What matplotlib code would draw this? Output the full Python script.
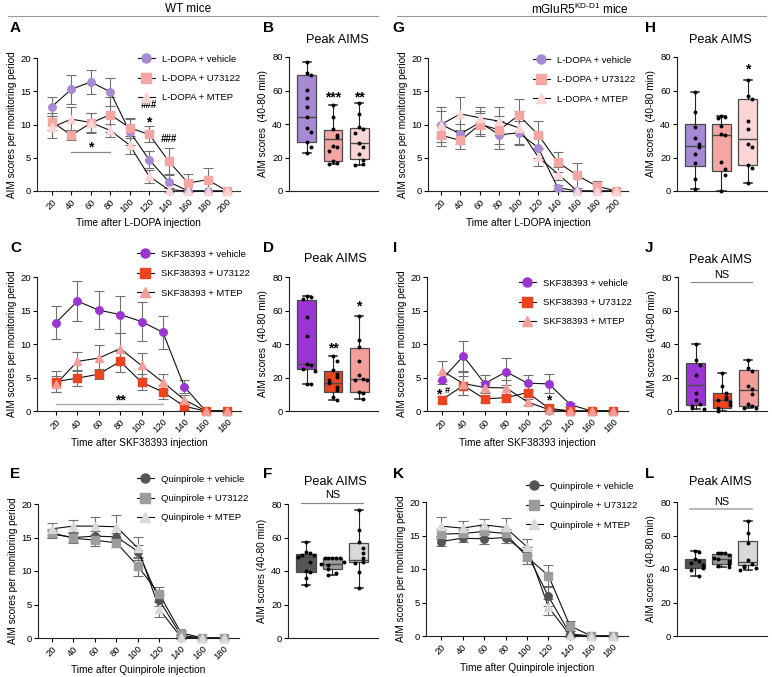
import numpy as np
import matplotlib
matplotlib.use('Agg')
import matplotlib.pyplot as plt
from matplotlib.lines import Line2D

plt.rcParams['font.family'] = ['Liberation Sans', 'DejaVu Sans']
plt.rcParams['axes.linewidth'] = 0.8
plt.rcParams['xtick.major.width'] = 0.8
plt.rcParams['ytick.major.width'] = 0.8
plt.rcParams['xtick.major.size'] = 3
plt.rcParams['ytick.major.size'] = 3
plt.rcParams['xtick.labelsize'] = 6.8
plt.rcParams['ytick.labelsize'] = 6.8
plt.rcParams['xtick.major.pad'] = 1.5
plt.rcParams['ytick.major.pad'] = 1.5

# ---------------- data ----------------
time_ldopa = [20, 40, 60, 80, 100, 120, 140, 160, 180, 200]
time_skf = [20, 40, 60, 80, 100, 120, 140, 160, 180]
time_quin = [20, 40, 60, 80, 100, 120, 140, 160, 180]

# Panel A (WT, L-DOPA)
A_veh = [12.7, 15.3, 16.4, 14.9, 8.9, 4.7, 1.4, 0, 0, 0]
A_veh_err = [1.4, 2.2, 1.8, 2.1, 2.0, 1.3, 1.0, 0, 0, 0]
A_u73 = [10.4, 8.4, 10.2, 11.5, 9.5, 8.5, 4.5, 1.2, 1.7, 0]
A_u73_err = [1.3, 0.7, 1.5, 2.6, 1.5, 1.2, 2.0, 1.3, 1.7, 0]
A_mtep = [9.6, 10.8, 10.3, 9.1, 6.9, 2.2, 0.2, 0, 0, 0]
A_mtep_err = [1.7, 1.9, 1.5, 1.0, 1.3, 1.0, 0.3, 0, 0, 0]

# Panel C (WT, SKF38393)
C_veh = [13.2, 16.4, 15.05, 14.4, 13.35, 11.75, 3.65, 0, 0]
C_veh_err = [2.4, 3.0, 2.85, 2.75, 2.9, 2.5, 1.0, 0, 0]
C_u73 = [4.4, 4.9, 5.5, 7.4, 4.3, 2.85, 0.7, 0, 0]
C_u73_err = [1.6, 1.2, 0.7, 1.6, 1.2, 1.0, 0.6, 0, 0]
C_mtep = [4.0, 7.4, 7.9, 9.3, 6.8, 4.3, 1.7, 0, 0]
C_mtep_err = [1.2, 1.4, 2.0, 2.3, 1.8, 1.2, 0.7, 0, 0]

# Panel E (WT, Quinpirole)
E_veh = [15.5, 15.0, 15.2, 15.1, 12.9, 5.6, 0.4, 0, 0]
E_veh_err = [0.5, 0.7, 0.8, 0.6, 1.0, 0.8, 0.2, 0, 0]
E_u73 = [15.7, 14.9, 14.6, 14.2, 10.7, 6.5, 0.8, 0, 0]
E_u73_err = [0.6, 0.7, 0.8, 0.6, 1.4, 1.1, 0.3, 0, 0]
E_mtep = [16.3, 16.7, 16.7, 16.6, 13.4, 4.3, 0.1, 0, 0]
E_mtep_err = [0.9, 0.9, 1.3, 1.7, 1.7, 1.2, 0.2, 0, 0]

# Panel G (KD, L-DOPA)
G_veh = [10.0, 8.6, 10.3, 8.45, 8.75, 6.5, 0.5, 0, 0, 0]
G_veh_err = [2.0, 1.5, 1.8, 2.1, 1.8, 1.5, 0.4, 0, 0, 0]
G_u73 = [8.4, 7.6, 10.0, 9.2, 11.4, 8.45, 4.35, 2.35, 0.75, 0]
G_u73_err = [1.7, 1.3, 1.8, 2.1, 2.5, 2.1, 1.5, 1.9, 0.7, 0]
G_mtep = [10.0, 11.6, 11.0, 10.5, 9.5, 5.1, 2.6, 0, 0, 0]
G_mtep_err = [2.6, 2.5, 1.6, 2.1, 2.5, 1.4, 1.0, 0, 0, 0]

# Panel I (KD, SKF38393)
I_veh = [4.7, 8.2, 4.1, 5.85, 4.15, 4.05, 0.95, 0, 0]
I_veh_err = [0.6, 2.2, 1.2, 2.0, 1.2, 1.4, 0.3, 0, 0]
I_u73 = [1.7, 3.8, 1.8, 2.0, 2.75, 0.4, 0, 0, 0]
I_u73_err = [0.5, 1.4, 0.4, 0.6, 0.6, 0.3, 0, 0, 0]
I_mtep = [6.0, 4.1, 3.5, 3.45, 1.35, 0.2, 0, 0, 0]
I_mtep_err = [1.5, 1.7, 0.8, 1.2, 0.4, 0.2, 0, 0, 0]

# Panel K (KD, Quinpirole)
K_veh = [14.1, 14.6, 14.5, 14.7, 12.3, 5.9, 0.3, 0, 0]
K_veh_err = [0.7, 0.6, 0.7, 0.8, 1.0, 1.4, 0.4, 0, 0]
K_u73 = [15.2, 15.3, 15.6, 15.3, 11.8, 9.0, 1.5, 0, 0]
K_u73_err = [0.7, 0.7, 0.8, 0.7, 1.0, 1.6, 0.7, 0, 0]
K_mtep = [16.4, 16.1, 16.6, 16.2, 13.3, 4.3, 0.1, 0, 0]
K_mtep_err = [1.4, 1.1, 0.9, 1.4, 1.2, 1.2, 0.2, 0, 0]

# Peak AIMS box panels: (whisker low, q1, median, q3, whisker high)
B_stats = [(22.4, 29.4, 44.4, 69.0, 76.8), (16.4, 18.2, 30.8, 36.4, 51.4), (15.4, 19.0, 28.8, 37.8, 52.4)]
B_pts = [[76.8, 70.4, 69.4, 60.4, 55.4, 50.4, 44.4, 37.4, 35.4, 29.4, 26.4, 22.4],
         [51.4, 44.0, 36.8, 33.4, 32.4, 26.8, 26.0, 24.0, 17.8, 17.0, 16.4],
         [52.4, 45.8, 38.0, 37.0, 34.4, 28.8, 26.4, 22.0, 18.8, 16.4, 15.4]]
D_stats = [(16.0, 24.8, 27.8, 66.2, 68.8), (6.4, 11.4, 17.0, 23.8, 32.8), (7.0, 11.4, 19.4, 37.8, 56.8)]
D_pts = [[68.8, 68.0, 67.0, 56.4, 44.8, 27.8, 27.4, 25.0, 24.0, 16.4, 16.0],
         [32.8, 29.8, 24.4, 21.8, 20.4, 18.8, 17.0, 14.4, 12.4, 8.4, 6.4],
         [56.8, 42.4, 38.4, 29.8, 21.4, 19.4, 18.8, 18.4, 11.4, 10.8, 7.0]]
F_stats = [(31.4, 39.6, 48.6, 50.2, 57.2), (37.6, 41.2, 44.2, 47.6, 47.6), (30.0, 45.2, 46.6, 56.6, 76.4)]
F_pts = [[57.2, 51.2, 50.6, 49.6, 49.6, 48.6, 45.6, 40.0, 39.6, 35.6, 31.4],
         [47.6, 47.6, 47.6, 47.6, 47.6, 45.6, 44.2, 43.4, 41.2, 39.0, 37.6],
         [76.4, 64.6, 57.2, 53.6, 50.6, 47.6, 45.6, 45.0, 39.6, 30.0]]
H_stats = [(1.2, 14.8, 26.8, 40.0, 59.0), (0.0, 11.8, 33.4, 40.0, 44.8), (4.8, 15.4, 30.8, 54.8, 66.2)]
H_pts = [[59.0, 47.0, 38.4, 31.4, 27.8, 26.2, 22.0, 17.0, 7.0, 1.2],
         [44.8, 44.0, 43.5, 39.0, 33.8, 33.4, 17.4, 13.4, 9.8, 0.0],
         [66.2, 57.0, 55.0, 42.0, 36.8, 28.0, 26.4, 15.8, 13.8, 4.8]]
J_stats = [(1.4, 3.4, 15.8, 28.4, 39.8), (0.0, 2.0, 6.4, 11.0, 22.4), (1.8, 2.8, 12.8, 24.2, 30.6)]
J_pts = [[39.8, 30.4, 27.6, 21.2, 10.8, 6.4, 4.4, 2.8, 1.8, 1.4],
         [22.4, 14.8, 11.0, 8.4, 7.0, 6.4, 5.4, 3.4, 2.0, 0.0],
         [30.6, 25.4, 23.8, 15.2, 13.4, 10.0, 4.4, 2.8, 2.0, 1.8]]
L_stats = [(36.0, 40.8, 43.4, 45.8, 50.8), (41.2, 42.8, 45.8, 48.8, 49.8), (39.4, 42.4, 44.4, 56.8, 68.4)]
L_pts = [[50.8, 50.4, 45.8, 44.6, 43.4, 42.4, 40.8, 39.4, 36.0],
         [49.8, 49.8, 49.8, 48.2, 46.6, 45.8, 44.6, 42.8, 41.8, 41.2],
         [68.4, 61.2, 55.4, 45.4, 43.2, 42.0, 41.0, 40.4, 39.4]]

# colors
c_ld = ['#A78AD3', '#F3A6A2', '#F9D6D5']
c_skf = ['#9A35D2', '#EC4420', '#F29E9A']
c_qn = ['#555555', '#9C9C9C', '#D9D9D9']

# ---------------- figure ----------------
W, H = 772, 677
fig = plt.figure(figsize=(W / 100, H / 100), dpi=100)


def ax_px(l, r, t, b):
    return fig.add_axes([l / W, 1 - b / H, (r - l) / W, (b - t) / H])


def fpx(x, y):
    return x / W, 1 - y / H


def style(ax):
    ax.spines['top'].set_visible(False)
    ax.spines['right'].set_visible(False)
    ax.spines['left'].set_color('#222222')
    ax.spines['bottom'].set_color('#222222')


def line_panel(ax, x, series, xlim, xlabel, leg_xy, dotted=False):
    style(ax)
    for y, e, mk, col, lab in series:
        ax.errorbar(x, y, yerr=e, fmt='none', ecolor='#707070', elinewidth=0.8,
                    capsize=3.5, capthick=0.8, zorder=2, clip_on=False)
    for y, e, mk, col, lab in series:
        ax.plot(x, y, color='#111111', lw=0.8, zorder=3, clip_on=False)
    handles = []
    for y, e, mk, col, lab in series:
        ax.plot(x, y, ls='none', marker=mk, ms=5.4, mfc=col, mec=col, zorder=4, clip_on=False)
        handles.append(Line2D([], [], color='#111111', lw=0.8, marker=mk, ms=6.5,
                              mfc=col, mec=col, label=lab))
    ax.set_xlim(*xlim)
    ax.set_ylim(0, 20)
    ax.set_yticks([0, 5, 10, 15, 20])
    ax.set_xticks(x)
    ax.set_xticklabels([str(v) for v in x], rotation=45, ha='right', rotation_mode='anchor')
    ax.set_xlabel(xlabel, fontsize=7.3, labelpad=2)
    ax.set_ylabel('AIM scores per monitoring period', fontsize=7.2, labelpad=2)
    if dotted:
        ax.spines['bottom'].set_linestyle((0, (1.2, 1.2)))
    ax.legend(handles=handles, loc='upper left', bbox_to_anchor=fpx(*leg_xy),
              bbox_transform=fig.transFigure, frameon=False, borderpad=0,
              labelspacing=1.1, handletextpad=0.8, handlelength=1.8, fontsize=6.8)


def jitter(vals, step=0.15):
    offs = []
    for i, v in enumerate(vals):
        k = sum(1 for w in vals[:i] if abs(w - v) < 4.0)
        offs.append(((k + 1) // 2) * step * (1 if k % 2 else -1))
    return offs


def box_panel(ax, stats, pts, colors, ylabel='AIM scores  (40-80 min)'):
    style(ax)
    bs = [dict(whislo=s[0], q1=s[1], med=s[2], q3=s[3], whishi=s[4], fliers=[]) for s in stats]
    bp = ax.bxp(bs, positions=[1, 2, 3], widths=0.72, patch_artist=True, showfliers=False,
                capwidths=0.32,
                boxprops=dict(edgecolor='#4a4a4a', linewidth=0.9),
                medianprops=dict(color='#4a4a4a', linewidth=1.0),
                whiskerprops=dict(color='#222222', linewidth=0.8),
                capprops=dict(color='#222222', linewidth=1.1))
    for p, c in zip(bp['boxes'], colors):
        p.set_facecolor(c)
    for i, vals in enumerate(pts):
        offs = jitter(vals)
        ax.scatter(np.array(offs) + i + 1, vals, s=8, color='black', zorder=5, clip_on=False,
                   linewidths=0)
    ax.set_xlim(0.32, 3.72)
    ax.set_ylim(0, 80)
    ax.set_yticks([0, 20, 40, 60, 80])
    ax.set_xticks([])
    ax.set_ylabel(ylabel, fontsize=7.2, labelpad=3)


def ftext(x, y, s, **kw):
    fig.text(*fpx(x, y), s, **kw)


def star(ax, x, y, s):
    ax.text(x, y, s, ha='center', va='center', fontsize=10, fontweight='bold')


# --- Line panels ---
axA = ax_px(37, 240, 58, 191)
line_panel(axA, time_ldopa,
           [(A_veh, A_veh_err, 'o', c_ld[0], 'L-DOPA + vehicle'),
            (A_u73, A_u73_err, 's', c_ld[1], 'L-DOPA + U73122'),
            (A_mtep, A_mtep_err, '^', c_ld[2], 'L-DOPA + MTEP')],
           (4.6, 213.4), 'Time after L-DOPA injection', (133, 50), dotted=True)
axA.text(120, 12.9, '###', ha='center', va='center', fontsize=7, style='italic', fontweight='bold')
star(axA, 120, 10.3, '*')
axA.text(140, 7.8, '###', ha='center', va='center', fontsize=7, style='italic', fontweight='bold')
star(axA, 60, 6.5, '*')
axA.plot([40, 80], [5.8, 5.8], color='#888888', lw=0.9)

axC = ax_px(37, 241, 277, 411)
line_panel(axC, time_skf,
           [(C_veh, C_veh_err, 'o', c_skf[0], 'SKF38393 + vehicle'),
            (C_u73, C_u73_err, 's', c_skf[1], 'SKF38393 + U73122'),
            (C_mtep, C_mtep_err, '^', c_skf[2], 'SKF38393 + MTEP')],
           (2.2, 193.1), 'Time after SKF38393 injection', (132, 245))
star(axC, 80, 1.5, '**')
axC.plot([20, 120], [1.0, 1.0], color='#aaaaaa', lw=1.0)

axE = ax_px(38, 239, 504, 638)
line_panel(axE, time_quin,
           [(E_veh, E_veh_err, 'o', c_qn[0], 'Quinpirole + vehicle'),
            (E_u73, E_u73_err, 's', c_qn[1], 'Quinpirole + U73122'),
            (E_mtep, E_mtep_err, '^', c_qn[2], 'Quinpirole + MTEP')],
           (7.0, 194.0), 'Time after Quinpirole injection', (132, 470))

axG = ax_px(428, 628, 58, 191)
line_panel(axG, time_ldopa,
           [(G_veh, G_veh_err, 'o', c_ld[0], 'L-DOPA + vehicle'),
            (G_u73, G_u73_err, 's', c_ld[1], 'L-DOPA + U73122'),
            (G_mtep, G_mtep_err, '^', c_ld[2], 'L-DOPA + MTEP')],
           (6.6, 212.3), 'Time after L-DOPA injection', (528, 51))

axI = ax_px(427, 628, 277, 411)
line_panel(axI, time_skf,
           [(I_veh, I_veh_err, 'o', c_skf[0], 'SKF38393 + vehicle'),
            (I_u73, I_u73_err, 's', c_skf[1], 'SKF38393 + U73122'),
            (I_mtep, I_mtep_err, '^', c_skf[2], 'SKF38393 + MTEP')],
           (6.0, 194.0), 'Time after SKF38393 injection', (514, 274))
star(axI, 16.5, 2.4, '*')
axI.text(24.5, 3.1, '#', ha='center', va='center', fontsize=6.5, style='italic', fontweight='bold')
star(axI, 120, 1.5, '*')

axK = ax_px(426, 628, 502, 636)
line_panel(axK, time_quin,
           [(K_veh, K_veh_err, 'o', c_qn[0], 'Quinpirole + vehicle'),
            (K_u73, K_u73_err, 's', c_qn[1], 'Quinpirole + U73122'),
            (K_mtep, K_mtep_err, '^', c_qn[2], 'Quinpirole + MTEP')],
           (6.0, 194.0), 'Time after Quinpirole injection', (521, 477))

# --- Box panels ---
axB = ax_px(289, 378, 57, 191)
box_panel(axB, B_stats, B_pts, c_ld)
star(axB, 2, 56.0, '***')
star(axB, 3, 56.0, '**')

axD = ax_px(289, 378, 277, 411)
box_panel(axD, D_stats, D_pts, c_skf)
star(axD, 2, 37.5, '**')
star(axD, 3, 62.5, '*')

axF = ax_px(288, 378, 504, 638)
box_panel(axF, F_stats, F_pts, c_qn, ylabel='AIM scores (40-80 min)')
axF.plot([0.8, 3.15], [80.4, 80.4], color='#888888', lw=0.9, clip_on=False)
axF.text(2, 85.6, 'NS', ha='center', va='center', fontsize=7.8)

axH = ax_px(677, 767, 57, 191)
box_panel(axH, H_stats, H_pts, c_ld)
star(axH, 3, 72.3, '*')

axJ = ax_px(678, 767, 277, 411)
box_panel(axJ, J_stats, J_pts, c_skf)
axJ.plot([0.8, 3.15], [76.8, 76.8], color='#888888', lw=0.9, clip_on=False)
axJ.text(2, 81.0, 'NS', ha='center', va='center', fontsize=7.8)

axL = ax_px(677, 767, 502, 636)
box_panel(axL, L_stats, L_pts, c_qn)
axL.plot([0.8, 3.15], [75.8, 75.8], color='#aaaaaa', lw=1.2, clip_on=False)
axL.text(2, 80.0, 'NS', ha='center', va='center', fontsize=7.8)

# titles
for (x, y) in [(337, 40), (720, 40), (335, 259), (720, 260), (335, 482), (720, 482)]:
    ftext(x, y, 'Peak AIMS', ha='center', va='center', fontsize=9.2)

# panel letters
for s, x, y in [('A', 10, 28), ('B', 263, 28), ('G', 392, 28), ('H', 645, 28),
                ('C', 10, 248), ('D', 263, 248), ('I', 393, 248), ('J', 645, 248),
                ('E', 10, 474), ('F', 263, 474), ('K', 393, 474), ('L', 645, 474)]:
    ftext(x, y, s, ha='left', va='center', fontsize=11, fontweight='bold')

# headers
ftext(188, 9, 'WT mice', ha='center', va='center', fontsize=8.5)
ftext(580, 9, 'mGluR5$^{\\mathregular{KD\u2010D1}}$ mice', ha='center', va='center', fontsize=8.5)
fig.add_artist(Line2D([8 / W, 378 / W], [1 - 16 / H, 1 - 16 / H], color='#999999', lw=0.8))
fig.add_artist(Line2D([397 / W, 766 / W], [1 - 16 / H, 1 - 16 / H], color='#999999', lw=0.8))

fig.savefig('out.png', dpi=100)
